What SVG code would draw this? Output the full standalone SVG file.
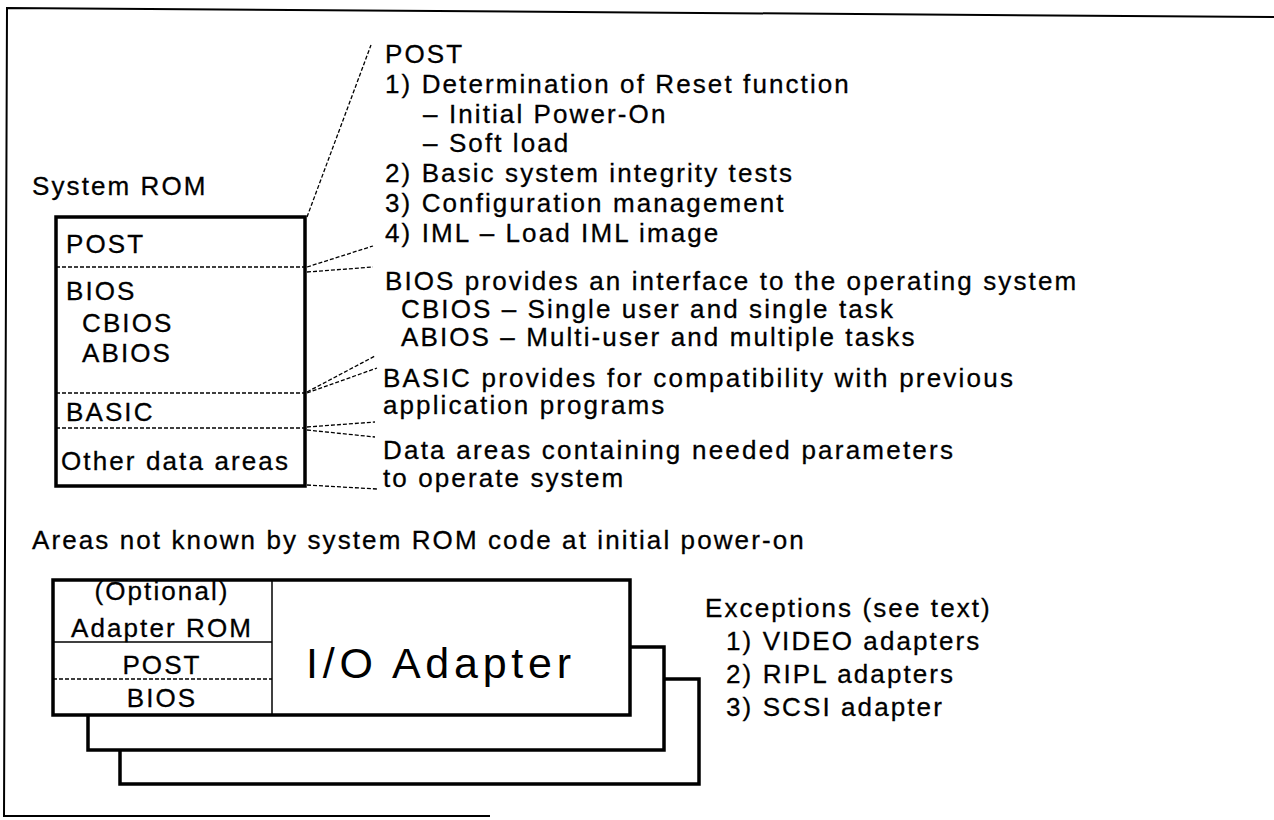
<svg xmlns="http://www.w3.org/2000/svg" width="1274" height="820" viewBox="0 0 1274 820">
<style>
text{font-family:"Liberation Sans",Arial,sans-serif;font-size:26px;letter-spacing:2.1px;fill:#000;stroke:#000;stroke-width:0.3}
.big{font-size:43px;letter-spacing:0;stroke-width:0}
.frame{fill:none;stroke:#000;stroke-width:2}
.thick{fill:none;stroke:#000;stroke-width:3.5}
.thin{fill:none;stroke:#000;stroke-width:1.5}
.dash{fill:none;stroke:#000;stroke-width:1.3;stroke-dasharray:4 2}
.mid{text-anchor:middle}
</style>
<rect width="1274" height="820" fill="#fff"/>
<path class="frame" d="M1274,17 L7,8 L4,816 L490,816"/>

<g id="system-rom-title"><text x="32" y="195">System ROM</text></g>

<g id="system-rom">
<rect class="thick" x="56" y="217" width="249" height="269"/>
<line class="dash" x1="56" y1="267" x2="305" y2="267"/>
<line class="dash" x1="56" y1="393" x2="305" y2="393"/>
<line class="dash" x1="56" y1="428" x2="305" y2="428"/>
<text x="66" y="253">POST</text>
<text x="66" y="300">BIOS</text>
<text x="82" y="332">CBIOS</text>
<text x="82" y="362">ABIOS</text>
<text x="66" y="421">BASIC</text>
<text x="61" y="470" textLength="229" lengthAdjust="spacing">Other data areas</text>
</g>

<g id="connectors">
<line class="dash" x1="307" y1="217" x2="371" y2="45"/>
<line class="dash" x1="307" y1="267" x2="373" y2="246"/>
<line class="dash" x1="307" y1="272" x2="373" y2="267"/>
<line class="dash" x1="307" y1="392" x2="375" y2="356"/>
<line class="dash" x1="307" y1="393" x2="377" y2="368"/>
<line class="dash" x1="307" y1="427" x2="375" y2="422"/>
<line class="dash" x1="307" y1="430" x2="375" y2="437"/>
<line class="dash" x1="307" y1="485" x2="377" y2="489"/>
</g>

<g id="post-desc">
<text x="385" y="63">POST</text>
<text x="385" y="93">1) Determination of Reset function</text>
<text x="423" y="123">– Initial Power-On</text>
<text x="423" y="152">– Soft load</text>
<text x="385" y="182">2) Basic system integrity tests</text>
<text x="385" y="212">3) Configuration management</text>
<text x="385" y="242">4) IML – Load IML image</text>
</g>

<g id="bios-desc">
<text x="385" y="290">BIOS provides an interface to the operating system</text>
<text x="401" y="318">CBIOS – Single user and single task</text>
<text x="401" y="346">ABIOS – Multi-user and multiple tasks</text>
</g>

<g id="basic-desc">
<text x="383" y="387" textLength="632" lengthAdjust="spacing">BASIC provides for compatibility with previous</text>
<text x="383" y="414">application programs</text>
</g>

<g id="data-desc">
<text x="383" y="459" textLength="572" lengthAdjust="spacing">Data areas containing needed parameters</text>
<text x="383" y="487">to operate system</text>
</g>

<g id="areas-title"><text x="32" y="549">Areas not known by system ROM code at initial power-on</text></g>

<g id="adapter-3"><path class="thick" d="M664,679 H699 V784 H120 V750"/></g>
<g id="adapter-2"><path class="thick" d="M630,647 H664 V750 H88 V715"/></g>

<g id="adapter-1">
<rect class="thick" x="53" y="580" width="577" height="135" fill="#fff"/>
<line class="thin" x1="272" y1="580" x2="272" y2="715"/>
<line class="thin" x1="53" y1="642" x2="272" y2="642"/>
<line class="dash" x1="53" y1="679" x2="272" y2="679"/>
<text class="mid" x="162" y="600">(Optional)</text>
<text class="mid" x="162" y="637">Adapter ROM</text>
<text class="mid" x="162" y="674">POST</text>
<text class="mid" x="162" y="707">BIOS</text>
<text class="big" x="306" y="678" textLength="265" lengthAdjust="spacing">I/O Adapter</text>
</g>

<g id="exceptions">
<text x="705" y="617">Exceptions (see text)</text>
<text x="726" y="650">1) VIDEO adapters</text>
<text x="726" y="683">2) RIPL adapters</text>
<text x="726" y="716">3) SCSI adapter</text>
</g>
</svg>
